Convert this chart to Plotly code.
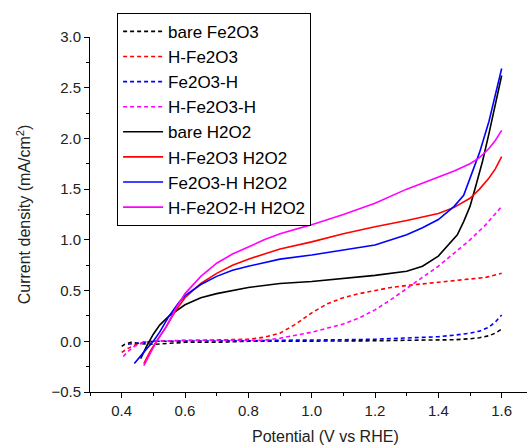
import plotly.graph_objects as go

# dashed curves (no H2O2)
x_bare = [0.40, 0.41, 0.43, 0.45, 0.50, 0.55, 0.60, 0.70, 0.80, 0.90, 1.00, 1.10, 1.20, 1.30, 1.40, 1.45, 1.50, 1.53, 1.56, 1.58, 1.60]
y_bare = [-0.05, -0.03, -0.01, -0.02, -0.03, -0.02, -0.01, -0.01, 0.0, 0.0, 0.0, 0.0, 0.005, 0.01, 0.01, 0.015, 0.025, 0.035, 0.055, 0.08, 0.12]

x_h = [0.40, 0.42, 0.44, 0.47, 0.50, 0.60, 0.70, 0.80, 0.85, 0.90, 0.95, 1.00, 1.05, 1.10, 1.15, 1.20, 1.25, 1.30, 1.35, 1.40, 1.45, 1.50, 1.55, 1.60]
y_h = [-0.11, -0.07, -0.04, -0.01, 0.0, 0.005, 0.01, 0.02, 0.04, 0.08, 0.17, 0.28, 0.37, 0.43, 0.47, 0.50, 0.53, 0.55, 0.565, 0.58, 0.60, 0.61, 0.63, 0.67]

x_fh = [0.42, 0.44, 0.47, 0.50, 0.60, 0.70, 0.80, 0.90, 1.00, 1.10, 1.20, 1.30, 1.40, 1.45, 1.50, 1.53, 1.56, 1.58, 1.60]
y_fh = [-0.03, -0.02, -0.01, 0.0, 0.0, 0.0, 0.005, 0.01, 0.01, 0.015, 0.02, 0.03, 0.045, 0.06, 0.08, 0.10, 0.14, 0.19, 0.26]

x_hfh = [0.405, 0.42, 0.44, 0.47, 0.50, 0.60, 0.70, 0.80, 0.85, 0.90, 0.95, 1.00, 1.05, 1.10, 1.15, 1.20, 1.25, 1.30, 1.35, 1.40, 1.45, 1.50, 1.55, 1.60]
y_hfh = [-0.15, -0.10, -0.05, -0.01, 0.0, 0.01, 0.01, 0.01, 0.01, 0.03, 0.06, 0.09, 0.13, 0.17, 0.23, 0.31, 0.41, 0.52, 0.63, 0.74, 0.87, 1.00, 1.15, 1.33]

# solid curves (with H2O2)
x_bare2 = [0.46, 0.48, 0.50, 0.52, 0.55, 0.60, 0.65, 0.70, 0.80, 0.90, 1.00, 1.10, 1.20, 1.30, 1.35, 1.40, 1.43, 1.46, 1.48, 1.50, 1.52, 1.54, 1.56, 1.58, 1.60]
y_bare2 = [-0.17, -0.04, 0.07, 0.16, 0.25, 0.36, 0.43, 0.47, 0.53, 0.57, 0.59, 0.62, 0.65, 0.69, 0.74, 0.84, 0.94, 1.05, 1.18, 1.33, 1.55, 1.78, 2.05, 2.33, 2.62]

x_h2 = [0.47, 0.49, 0.51, 0.54, 0.57, 0.60, 0.65, 0.70, 0.75, 0.80, 0.90, 1.00, 1.10, 1.20, 1.30, 1.40, 1.45, 1.50, 1.53, 1.56, 1.58, 1.60]
y_h2 = [-0.22, -0.10, 0.0, 0.14, 0.30, 0.43, 0.57, 0.67, 0.75, 0.81, 0.91, 0.98, 1.06, 1.13, 1.19, 1.26, 1.32, 1.41, 1.50, 1.61, 1.70, 1.82]

x_fh2 = [0.44, 0.46, 0.48, 0.50, 0.52, 0.55, 0.58, 0.60, 0.65, 0.70, 0.75, 0.80, 0.90, 1.00, 1.10, 1.20, 1.30, 1.35, 1.40, 1.45, 1.48, 1.50, 1.53, 1.56, 1.58, 1.60]
y_fh2 = [-0.22, -0.14, -0.07, 0.0, 0.09, 0.25, 0.38, 0.45, 0.56, 0.64, 0.70, 0.74, 0.81, 0.85, 0.90, 0.95, 1.05, 1.12, 1.20, 1.33, 1.44, 1.60, 1.86, 2.17, 2.42, 2.69]

x_hfh2 = [0.47, 0.49, 0.51, 0.54, 0.57, 0.60, 0.65, 0.70, 0.75, 0.80, 0.85, 0.90, 1.00, 1.10, 1.20, 1.30, 1.40, 1.45, 1.50, 1.53, 1.56, 1.58, 1.60]
y_hfh2 = [-0.24, -0.12, 0.0, 0.14, 0.32, 0.47, 0.64, 0.77, 0.86, 0.93, 1.00, 1.06, 1.15, 1.25, 1.36, 1.50, 1.62, 1.68, 1.75, 1.81, 1.90, 1.98, 2.08]

series = [
    ("bare Fe2O3", x_bare, y_bare, "black", "4px,3px"),
    ("H-Fe2O3", x_h, y_h, "red", "4px,3px"),
    ("Fe2O3-H", x_fh, y_fh, "blue", "4px,3px"),
    ("H-Fe2O3-H", x_hfh, y_hfh, "magenta", "4px,3px"),
    ("bare H2O2", x_bare2, y_bare2, "black", "solid"),
    ("H-Fe2O3 H2O2", x_h2, y_h2, "red", "solid"),
    ("Fe2O3-H H2O2", x_fh2, y_fh2, "blue", "solid"),
    ("H-Fe2O2-H H2O2", x_hfh2, y_hfh2, "magenta", "solid"),
]

fig = go.Figure()
for name, xs, ys, col, dash in series:
    fig.add_trace(go.Scatter(x=xs, y=ys, mode="lines", name=name,
                             line=dict(color=col, width=1.6, dash=dash)))

fig.update_layout(
    width=527, height=448,
    margin=dict(l=90, r=0, t=37, b=56),
    plot_bgcolor="white", paper_bgcolor="white",
    font=dict(family="Liberation Sans, Arial", size=15, color="#222"),
    legend=dict(x=0.062, y=1.068, xanchor="left", yanchor="top",
                bordercolor="black", borderwidth=1, bgcolor="white",
                font=dict(size=17, color="black"), itemwidth=40,
                tracegroupgap=0),
    showlegend=True,
)
# x title sits right of the visible axis centre in the original (axis is cropped)
fig.add_annotation(text="Potential (V vs RHE)", xref="paper", yref="paper",
                   x=0.54, y=-0.125, xanchor="center", yanchor="middle",
                   showarrow=False, font=dict(size=16, color="#222"))
fig.update_xaxes(
    range=[0.3, 1.68], dtick=0.2, tick0=0.4, tickformat=".1f",
    showline=True, linecolor="black", linewidth=1, showgrid=False, zeroline=False,
    ticks="outside", ticklen=5, tickcolor="black",
    minor=dict(dtick=0.1, ticks="outside", ticklen=3, tickcolor="black"),
)
fig.update_yaxes(
    range=[-0.5, 3.0], dtick=0.5, tickformat=".1f",
    showline=True, linecolor="black", linewidth=1, showgrid=False, zeroline=False,
    ticks="outside", ticklen=5, tickcolor="black",
    minor=dict(dtick=0.25, ticks="outside", ticklen=3, tickcolor="black"),
    title=dict(text="Current density (mA/cm<sup>2</sup>)", font=dict(size=16), standoff=16),
)

fig.write_html("out.html", config={"displayModeBar": False},
               post_script="document.body.style.margin='0';")
